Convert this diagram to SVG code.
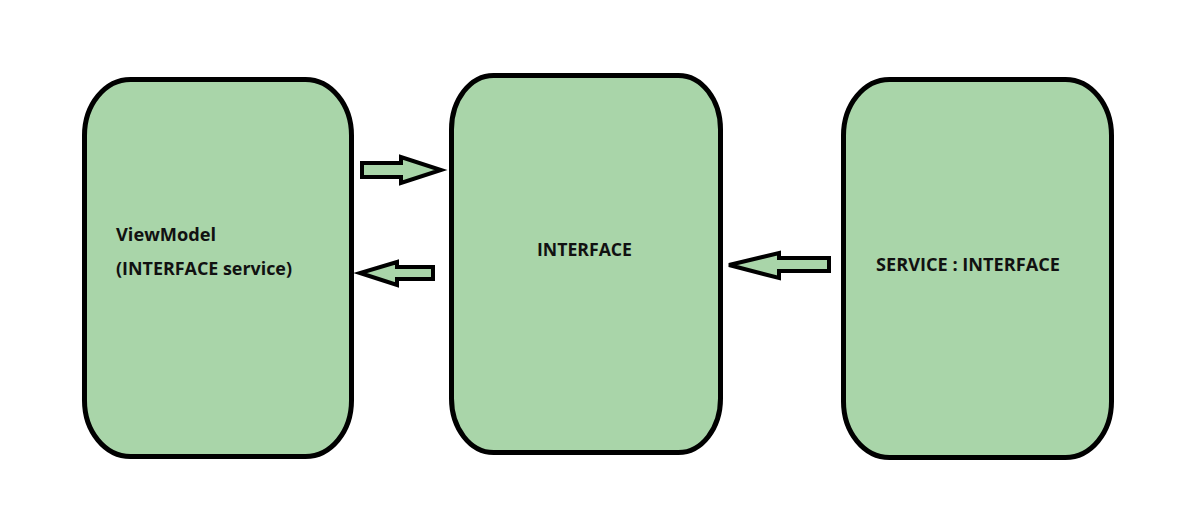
<svg xmlns="http://www.w3.org/2000/svg" width="1181" height="532" viewBox="0 0 1181 532">
<style>
.box{fill:#a9d5a9;stroke:#000;stroke-width:5}
.arr{fill:#a9d5a9;stroke:#000;stroke-width:4;stroke-linejoin:miter}
.t{font-family:"Open Sans","Liberation Sans",sans-serif;font-weight:bold;font-size:18px;fill:#111}
</style>
<rect width="1181" height="532" fill="#fff"/>
<g id="viewmodel">
<rect class="box" x="84.5" y="79.5" width="267" height="377" rx="46" ry="56"/>
<text class="t" x="116" y="241" textLength="100" lengthAdjust="spacingAndGlyphs">ViewModel</text>
<text class="t" x="116" y="275" textLength="176" lengthAdjust="spacingAndGlyphs">(INTERFACE service)</text>
</g>
<g id="interface">
<rect class="box" x="451.5" y="75.5" width="269" height="377" rx="42" ry="54"/>
<text class="t" x="537" y="256" textLength="95" lengthAdjust="spacingAndGlyphs">INTERFACE</text>
</g>
<g id="service">
<rect class="box" x="843.5" y="79.5" width="268" height="378" rx="46" ry="56"/>
<text class="t" x="876" y="271" textLength="184" lengthAdjust="spacingAndGlyphs">SERVICE : INTERFACE</text>
</g>
<g id="connectors">
<polygon class="arr" points="362,163 401,163 401,157 441,170 401,183 401,177 362,177"/>
<polygon class="arr" points="433,267 397,267 397,262 360,273 397,285 397,279 433,279"/>
<polygon class="arr" points="829,258 779,258 779,253 729,265 779,278 779,271 829,271"/>
</g>
</svg>
